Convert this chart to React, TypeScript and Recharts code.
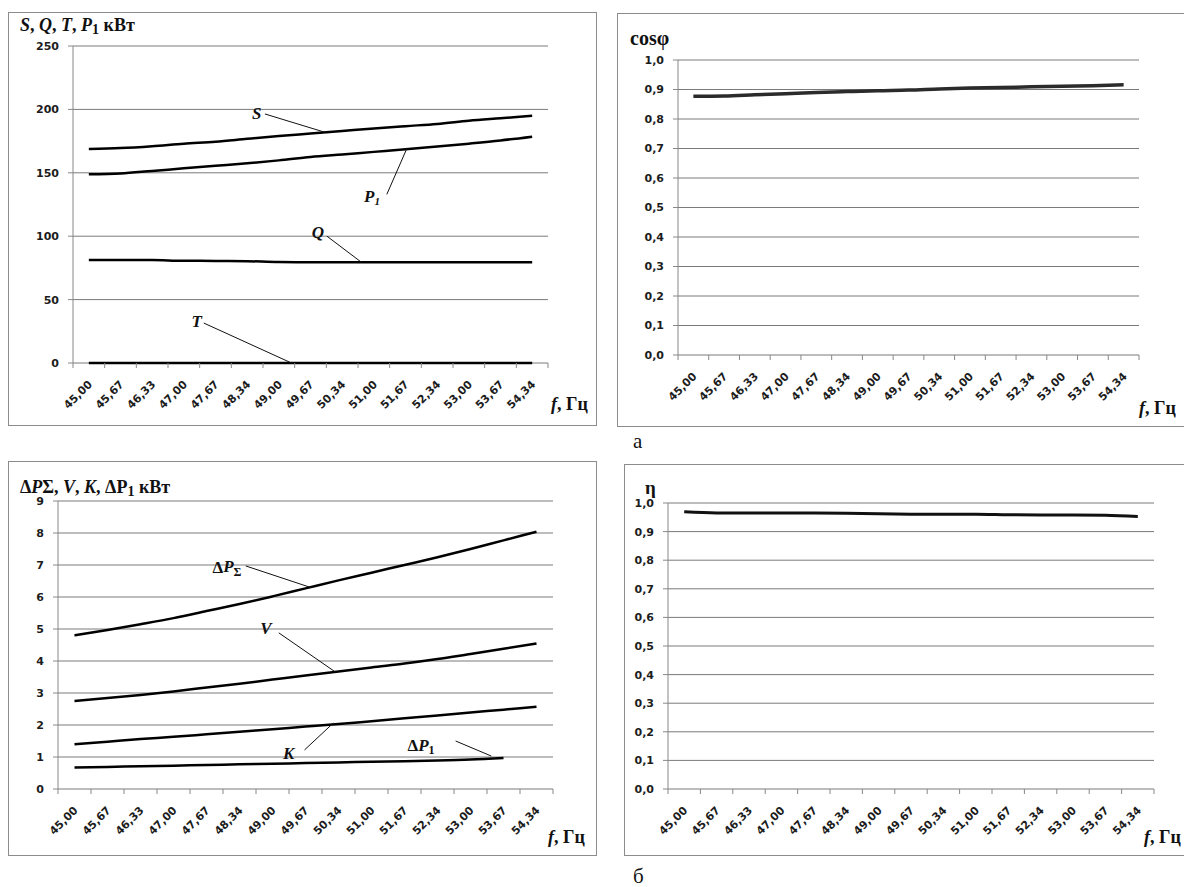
import React from "react";
import {
  LineChart,
  Line,
  XAxis,
  YAxis,
  CartesianGrid,
  ReferenceLine,
  ReferenceDot,
} from "recharts";

// frequency, Hz (category labels)
const freqLabels = [
  "45,00", "45,67", "46,33", "47,00", "47,67", "48,34", "49,00", "49,67",
  "50,34", "51,00", "51,67", "52,34", "53,00", "53,67", "54,34",
];

// panel 1: S, Q, T, P1, kW
const sVals = [168.8, 169.5, 171, 173, 174.5, 176.8, 179, 181, 183, 185, 186.8, 188.5, 191, 193, 195];
const p1Vals = [148.8, 149.5, 151.5, 153.5, 155.5, 157.5, 159.8, 162.5, 164.5, 166.5, 168.5, 170.7, 173, 175.5, 178.5];
const qVals = [81.3, 81.3, 81.2, 80.6, 80.5, 80.3, 79.6, 79.5, 79.5, 79.5, 79.5, 79.5, 79.5, 79.5, 79.5];
const tVals = [0, 0, 0, 0, 0, 0, 0, 0, 0, 0, 0, 0, 0, 0, 0];

// panel 2: cos phi
const cosVals = [0.877, 0.878, 0.882, 0.886, 0.89, 0.893, 0.896, 0.898, 0.902, 0.905, 0.907, 0.909, 0.911, 0.913, 0.916];

// panel 3: losses, kW
const dpSumVals = [4.8, 4.97, 5.15, 5.34, 5.56, 5.78, 6.02, 6.27, 6.52, 6.76, 7.0, 7.24, 7.5, 7.77, 8.04];
const vVals = [2.75, 2.84, 2.94, 3.05, 3.17, 3.29, 3.42, 3.55, 3.67, 3.8, 3.92, 4.06, 4.22, 4.38, 4.55];
const kVals = [1.4, 1.48, 1.56, 1.63, 1.71, 1.79, 1.87, 1.95, 2.03, 2.12, 2.21, 2.3, 2.39, 2.48, 2.57];
const dp1Vals = [0.67, 0.69, 0.71, 0.73, 0.75, 0.77, 0.79, 0.81, 0.83, 0.85, 0.87, 0.89, 0.92, 0.97, null];

// panel 4: efficiency
const etaVals = [0.969, 0.965, 0.965, 0.965, 0.965, 0.964, 0.962, 0.961, 0.961, 0.961, 0.959, 0.958, 0.958, 0.957, 0.953];

const ticks1 = [0, 50, 100, 150, 200, 250];
const ticksUnit = [0, 0.1, 0.2, 0.3, 0.4, 0.5, 0.6, 0.7, 0.8, 0.9, 1.0];
const ticks3 = [0, 1, 2, 3, 4, 5, 6, 7, 8, 9];

// leader-line callouts, in data coordinates (category index, value)
const notes1 = [
  { id: "S", lx: 5.3, ly: 197, x1: 5.56, y1: 196.4, x2: 7.45, y2: 182 },
  { id: "P1", lx: 8.94, ly: 131, x1: 9.41, y1: 133, x2: 10.04, y2: 169 },
  { id: "Q", lx: 7.23, ly: 103, x1: 7.52, y1: 100, x2: 8.6, y2: 79.6 },
  { id: "T", lx: 3.41, ly: 33, x1: 3.63, y1: 31.5, x2: 6.4, y2: 0 },
];
const notes3 = [
  { id: "dPS", lx: 4.62, ly: 6.94, x1: 5.19, y1: 6.97, x2: 7.15, y2: 6.3 },
  { id: "V", lx: 5.8, ly: 5.03, x1: 6.19, y1: 4.88, x2: 7.9, y2: 3.66 },
  { id: "K", lx: 6.49, ly: 1.12, x1: 6.97, y1: 1.22, x2: 7.84, y2: 2.06 },
  { id: "dP1", lx: 10.5, ly: 1.37, x1: 11.55, y1: 1.5, x2: 12.63, y2: 1.03 },
];

const rows1 = freqLabels.map((f, i) => ({ i, s: sVals[i], p1: p1Vals[i], q: qVals[i], t: tVals[i] }));
const rows2 = freqLabels.map((f, i) => ({ i, cos: cosVals[i] }));
const rows3 = freqLabels.map((f, i) => ({ i, dps: dpSumVals[i], v: vVals[i], k: kVals[i], dp1: dp1Vals[i] }));
const rows4 = freqLabels.map((f, i) => ({ i, eta: etaVals[i] }));

const idxTicks = freqLabels.map((f, i) => i);

const SERIF = "'Liberation Serif', 'Times New Roman', serif";
const SANS = "'DejaVu Sans', Verdana, sans-serif";
const GRID = "#7a7a7a";
const AXIS = "#888";
const INK = "#1c1c1c";

function noteText(id: string) {
  if (id === "P1")
    return (
      <>
        P<tspan fontSize={11} dy={4}>1</tspan>
      </>
    );
  if (id === "dPS")
    return (
      <>
        <tspan fontStyle="normal">Δ</tspan>P
        <tspan fontStyle="normal" fontSize={12} dy={5}>Σ</tspan>
      </>
    );
  if (id === "dP1")
    return (
      <>
        <tspan fontStyle="normal">Δ</tspan>P
        <tspan fontStyle="normal" fontSize={12} dy={5}>1</tspan>
      </>
    );
  return id;
}

function FreqTick(props: any) {
  const { x, y, payload, step } = props;
  const i = payload.value;
  const ax = x + 4;
  const ay = y + 22;
  return (
    <g>
      <line x1={x - step / 2} y1={y} x2={x - step / 2} y2={y + 5} stroke={AXIS} />
      {i === freqLabels.length - 1 && (
        <line x1={x + step / 2} y1={y} x2={x + step / 2} y2={y + 5} stroke={AXIS} />
      )}
      <text
        x={ax}
        y={ay}
        transform={`rotate(-45 ${ax} ${ay})`}
        textAnchor="end"
        fontFamily={SANS}
        fontSize={11}
        fontWeight={700}
        fill={INK}
      >
        {freqLabels[i]}
      </text>
    </g>
  );
}

type Box = { l: number; t: number; r: number; b: number };

function Panel(props: {
  frame: Box;
  plot: Box;
  data: any[];
  keys: string[];
  yMax: number;
  yTicks: number[];
  yFmt: (v: number) => string;
  notes?: typeof notes1;
  stroke: string;
  strokeWidth: number;
}) {
  const { frame, plot, data, keys, yMax, yTicks, yFmt, notes, stroke, strokeWidth } = props;
  const yw = 40;
  const xh = 40;
  const w = frame.r - frame.l;
  const h = frame.b - frame.t;
  const margin = {
    top: plot.t - frame.t,
    right: frame.r - plot.r,
    bottom: frame.b - plot.b - xh,
    left: plot.l - frame.l - yw,
  };
  const step = (plot.r - plot.l) / freqLabels.length;
  return (
    <>
      <div
        style={{
          position: "absolute",
          left: frame.l,
          top: frame.t,
          width: w,
          height: h,
          boxSizing: "border-box",
          border: "1px solid #8c8c8c",
        }}
      />
      <div style={{ position: "absolute", left: frame.l, top: frame.t }}>
        <LineChart width={w} height={h} data={data} margin={margin}>
          <CartesianGrid vertical={false} stroke={GRID} />
          <XAxis
            type="number"
            dataKey="i"
            domain={[-0.5, freqLabels.length - 0.5]}
            ticks={idxTicks}
            interval={0}
            height={xh}
            tickSize={0}
            tickMargin={0}
            tickLine={false}
            axisLine={false}
            tick={<FreqTick step={step} />}
          />
          <YAxis
            type="number"
            domain={[0, yMax]}
            ticks={yTicks}
            interval={0}
            width={yw}
            tickSize={5}
            tickMargin={9}
            tickFormatter={yFmt}
            axisLine={{ stroke: AXIS }}
            tickLine={{ stroke: AXIS }}
            tick={{ fontSize: 11, fontWeight: 700, fontFamily: SANS, fill: INK }}
          />
          {keys.map((k) => (
            <Line
              key={k}
              dataKey={k}
              type="monotone"
              stroke={stroke}
              strokeWidth={strokeWidth}
              dot={false}
              activeDot={false}
              connectNulls={false}
              isAnimationActive={false}
            />
          ))}
          {(notes || []).map((n) => (
            <ReferenceLine
              key={"l" + n.id}
              segment={[
                { x: n.x1, y: n.y1 },
                { x: n.x2, y: n.y2 },
              ]}
              stroke="#111"
              strokeWidth={1}
            />
          ))}
          {(notes || []).map((n) => (
            <ReferenceDot
              key={"d" + n.id}
              x={n.lx}
              y={n.ly}
              r={0}
              shape={(p: any) => (
                <text
                  x={p.cx}
                  y={p.cy}
                  textAnchor="middle"
                  dominantBaseline="central"
                  fontFamily={SERIF}
                  fontWeight={700}
                  fontStyle="italic"
                  fontSize={17}
                  fill="#111"
                >
                  {noteText(n.id)}
                </text>
              )}
            />
          ))}
        </LineChart>
      </div>
    </>
  );
}

const fmtInt = (v: number) => String(v);
const fmtDec = (v: number) => v.toFixed(1).replace(".", ",");

function FreqLabel({ x, y }: { x: number; y: number }) {
  return (
    <text x={x} y={y} fontFamily={SERIF} fontWeight={700} fontSize={18} fill="#111">
      <tspan fontStyle="italic">f</tspan>, Гц
    </text>
  );
}

export default function App() {
  return (
    <div
      style={{
        position: "absolute",
        left: 0,
        top: 0,
        width: 1184,
        height: 887,
        overflow: "hidden",
        background: "#fff",
      }}
    >
      <Panel
        frame={{ l: 8, t: 12, r: 597, b: 426 }}
        plot={{ l: 73, t: 46, r: 548, b: 363 }}
        data={rows1}
        keys={["s", "p1", "q", "t"]}
        yMax={250}
        yTicks={ticks1}
        yFmt={fmtInt}
        notes={notes1}
        stroke="#000"
        strokeWidth={2.5}
      />
      <Panel
        frame={{ l: 617, t: 13, r: 1187, b: 427 }}
        plot={{ l: 678, t: 60, r: 1139, b: 355 }}
        data={rows2}
        keys={["cos"]}
        yMax={1}
        yTicks={ticksUnit}
        yFmt={fmtDec}
        stroke="#2b2b2b"
        strokeWidth={3.5}
      />
      <Panel
        frame={{ l: 8, t: 461, r: 597, b: 856 }}
        plot={{ l: 58, t: 501, r: 553, b: 789 }}
        data={rows3}
        keys={["dps", "v", "k", "dp1"]}
        yMax={9}
        yTicks={ticks3}
        yFmt={fmtInt}
        notes={notes3}
        stroke="#000"
        strokeWidth={2.5}
      />
      <Panel
        frame={{ l: 624, t: 464, r: 1187, b: 856 }}
        plot={{ l: 668, t: 503, r: 1154, b: 789 }}
        data={rows4}
        keys={["eta"]}
        yMax={1}
        yTicks={ticksUnit}
        yFmt={fmtDec}
        stroke="#111"
        strokeWidth={3}
      />
      <svg
        width={1184}
        height={887}
        style={{ position: "absolute", left: 0, top: 0, pointerEvents: "none" }}
      >
        <text x={20} y={31} fontFamily={SERIF} fontWeight={700} fontSize={18} fill="#111">
          <tspan fontStyle="italic">S</tspan>, <tspan fontStyle="italic">Q</tspan>,{" "}
          <tspan fontStyle="italic">T</tspan>, <tspan fontStyle="italic">P</tspan>
          <tspan fontSize={14} dy={3}>1</tspan>
          <tspan dy={-3}> кВт</tspan>
        </text>
        <text x={630} y={45} fontFamily={SERIF} fontWeight={700} fontSize={20} fill="#111">
          cosφ
        </text>
        <text x={20} y={493} fontFamily={SERIF} fontWeight={700} fontSize={18} fill="#111">
          Δ<tspan fontStyle="italic">P</tspan>Σ, <tspan fontStyle="italic">V</tspan>,{" "}
          <tspan fontStyle="italic">K</tspan>, ΔP
          <tspan fontSize={14} dy={3}>1</tspan>
          <tspan dy={-3}> кВт</tspan>
        </text>
        <text x={645} y={494} fontFamily={SERIF} fontWeight={700} fontSize={19} fill="#111">
          η
        </text>
        <FreqLabel x={551} y={410} />
        <FreqLabel x={1139} y={414} />
        <FreqLabel x={548} y={843} />
        <FreqLabel x={1144} y={843} />
        <text x={633} y={448} fontFamily={SERIF} fontSize={21} fill="#111">
          а
        </text>
        <text x={633} y={883} fontFamily={SERIF} fontSize={21} fill="#111">
          б
        </text>
      </svg>
    </div>
  );
}
